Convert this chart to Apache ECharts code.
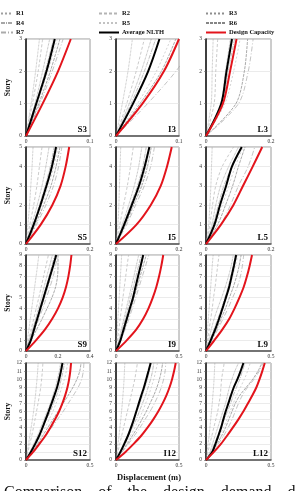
<!DOCTYPE html>
<html>
<head>
<meta charset="UTF-8">
<title></title>
<style type="text/css">
* { margin: 0; padding: 0; }
#story { width: 295px; height: 491px; background: #fff; }
</style>
</head>
<body>
<div id="story"></div>
<script src="https://cdn.jsdelivr.net/npm/echarts@6/dist/echarts.min.js"></script>
<script type="text/javascript">
// panels row by row: S, I, L for 3, 5, 9 and 12 storeys
var panelNames = ['S3', 'I3', 'L3', 'S5', 'I5', 'L5', 'S9', 'I9', 'L9', 'S12', 'I12', 'L12'];
var storyCounts = [3, 5, 9, 12];
var xMax = [0.1, 0.1, 0.2, 0.2, 0.2, 0.2, 0.4, 0.5, 0.5, 0.5, 0.5, 0.5];
var xStep = [0.1, 0.1, 0.2, 0.2, 0.2, 0.2, 0.2, 0.5, 0.5, 0.5, 0.5, 0.5];
var recordNames = ['R1', 'R2', 'R3', 'R4', 'R5', 'R6', 'R7'];

// displacement (m) at storey 0..N
var avgS3 = [0, 0.016, 0.032, 0.045];
var capS3 = [0, 0.026, 0.050, 0.070];
var recS3 = [
	[0, 0.008, 0.015, 0.021], [0, 0.010, 0.019, 0.026], [0, 0.014, 0.026, 0.037],
	[0, 0.016, 0.030, 0.043], [0, 0.018, 0.034, 0.049], [0, 0.020, 0.038, 0.053],
	[0, 0.022, 0.041, 0.058]
];
var avgI3 = [0, 0.027, 0.051, 0.069];
var capI3 = [0, 0.042, 0.076, 0.100];
var recI3 = [
	[0, 0.010, 0.019, 0.026], [0, 0.017, 0.032, 0.045], [0, 0.021, 0.040, 0.056],
	[0, 0.024, 0.045, 0.063], [0, 0.034, 0.064, 0.087], [0, 0.038, 0.072, 0.095],
	[0, 0.050, 0.095, 0.130]
];
var avgL3 = [0, 0.047, 0.063, 0.080];
var capL3 = [0, 0.052, 0.074, 0.094];
var recL3 = [
	[0, 0.016, 0.019, 0.022], [0, 0.025, 0.030, 0.036], [0, 0.045, 0.060, 0.075],
	[0, 0.050, 0.068, 0.088], [0, 0.058, 0.085, 0.105], [0, 0.092, 0.118, 0.128],
	[0, 0.100, 0.130, 0.145]
];

var avgS5 = [0, 0.024, 0.045, 0.064, 0.081, 0.094];
var capS5 = [0, 0.046, 0.082, 0.108, 0.124, 0.135];
var recS5 = [
	[0, 0.006, 0.011, 0.015, 0.019, 0.022], [0, 0.012, 0.024, 0.034, 0.042, 0.050],
	[0, 0.018, 0.035, 0.050, 0.062, 0.072], [0, 0.022, 0.042, 0.060, 0.076, 0.088],
	[0, 0.026, 0.049, 0.070, 0.087, 0.100], [0, 0.029, 0.055, 0.078, 0.094, 0.106],
	[0, 0.033, 0.062, 0.086, 0.102, 0.112]
];
var avgI5 = [0, 0.026, 0.050, 0.073, 0.091, 0.106];
var capI5 = [0, 0.065, 0.110, 0.142, 0.162, 0.177];
var recI5 = [
	[0, 0.006, 0.009, 0.011, 0.013, 0.015], [0, 0.012, 0.024, 0.036, 0.046, 0.055],
	[0, 0.020, 0.040, 0.058, 0.072, 0.082], [0, 0.024, 0.046, 0.068, 0.085, 0.096],
	[0, 0.028, 0.052, 0.078, 0.095, 0.106], [0, 0.030, 0.056, 0.082, 0.100, 0.112],
	[0, 0.034, 0.062, 0.090, 0.110, 0.122]
];
var avgL5 = [0, 0.026, 0.043, 0.062, 0.080, 0.110];
var capL5 = [0, 0.046, 0.084, 0.114, 0.144, 0.173];
var recL5 = [
	[0, 0.008, 0.012, 0.015, 0.017, 0.019], [0, 0.012, 0.020, 0.030, 0.050, 0.085],
	[0, 0.018, 0.030, 0.045, 0.070, 0.100], [0, 0.022, 0.038, 0.055, 0.080, 0.108],
	[0, 0.030, 0.050, 0.070, 0.090, 0.114], [0, 0.036, 0.060, 0.082, 0.100, 0.120],
	[0, 0.045, 0.075, 0.100, 0.130, 0.150]
];

var avgS9 = [0, 0.030, 0.050, 0.070, 0.090, 0.110, 0.130, 0.150, 0.170, 0.189];
var capS9 = [0, 0.062, 0.118, 0.163, 0.200, 0.229, 0.250, 0.265, 0.276, 0.284];
var recS9 = [
	[0, 0.009, 0.018, 0.027, 0.036, 0.045, 0.054, 0.063, 0.072, 0.080],
	[0, 0.016, 0.032, 0.048, 0.064, 0.080, 0.095, 0.110, 0.125, 0.140],
	[0, 0.020, 0.040, 0.060, 0.078, 0.096, 0.113, 0.130, 0.148, 0.165],
	[0, 0.022, 0.044, 0.065, 0.086, 0.106, 0.125, 0.144, 0.162, 0.180],
	[0, 0.025, 0.050, 0.074, 0.097, 0.118, 0.138, 0.158, 0.175, 0.190],
	[0, 0.032, 0.066, 0.100, 0.132, 0.162, 0.185, 0.197, 0.200, 0.200],
	[0, 0.028, 0.055, 0.080, 0.105, 0.128, 0.150, 0.170, 0.185, 0.198]
];
var avgI9 = [0, 0.035, 0.060, 0.085, 0.110, 0.135, 0.155, 0.175, 0.196, 0.216];
var capI9 = [0, 0.085, 0.160, 0.215, 0.258, 0.292, 0.320, 0.342, 0.360, 0.375];
var recI9 = [
	[0, 0.005, 0.010, 0.015, 0.020, 0.025, 0.030, 0.035, 0.040, 0.045],
	[0, 0.011, 0.022, 0.033, 0.044, 0.055, 0.066, 0.077, 0.088, 0.100],
	[0, 0.022, 0.042, 0.062, 0.082, 0.102, 0.122, 0.142, 0.161, 0.180],
	[0, 0.026, 0.050, 0.072, 0.094, 0.115, 0.137, 0.158, 0.179, 0.200],
	[0, 0.030, 0.056, 0.082, 0.106, 0.130, 0.152, 0.175, 0.198, 0.220],
	[0, 0.034, 0.064, 0.092, 0.118, 0.143, 0.168, 0.192, 0.216, 0.240],
	[0, 0.038, 0.072, 0.102, 0.130, 0.157, 0.183, 0.209, 0.235, 0.260]
];
var avgL9 = [0, 0.036, 0.070, 0.100, 0.127, 0.153, 0.178, 0.197, 0.215, 0.232];
var capL9 = [0, 0.064, 0.125, 0.178, 0.220, 0.257, 0.290, 0.315, 0.336, 0.354];
var recL9 = [
	[0, 0.006, 0.012, 0.018, 0.024, 0.030, 0.036, 0.042, 0.048, 0.055],
	[0, 0.012, 0.024, 0.036, 0.048, 0.058, 0.070, 0.080, 0.090, 0.100],
	[0, 0.020, 0.040, 0.062, 0.090, 0.120, 0.148, 0.173, 0.194, 0.210],
	[0, 0.030, 0.060, 0.090, 0.120, 0.145, 0.170, 0.190, 0.210, 0.225],
	[0, 0.035, 0.068, 0.100, 0.130, 0.157, 0.182, 0.205, 0.226, 0.245],
	[0, 0.040, 0.080, 0.115, 0.150, 0.180, 0.210, 0.235, 0.255, 0.270],
	[0, 0.045, 0.090, 0.130, 0.170, 0.205, 0.240, 0.265, 0.280, 0.290]
];

var avgS12 = [0, 0.038, 0.072, 0.103, 0.129, 0.153, 0.177, 0.200, 0.222, 0.243, 0.259, 0.273, 0.285];
var capS12 = [0, 0.056, 0.105, 0.151, 0.190, 0.226, 0.258, 0.284, 0.306, 0.324, 0.337, 0.346, 0.352];
var recS12 = [
	[0, 0.010, 0.020, 0.030, 0.040, 0.050, 0.059, 0.067, 0.074, 0.080, 0.086, 0.091, 0.095],
	[0, 0.015, 0.030, 0.045, 0.058, 0.070, 0.082, 0.094, 0.105, 0.115, 0.122, 0.128, 0.132],
	[0, 0.030, 0.060, 0.090, 0.115, 0.140, 0.165, 0.190, 0.210, 0.230, 0.245, 0.260, 0.270],
	[0, 0.035, 0.070, 0.100, 0.130, 0.160, 0.190, 0.215, 0.240, 0.260, 0.275, 0.290, 0.300],
	[0, 0.040, 0.080, 0.115, 0.150, 0.180, 0.210, 0.235, 0.260, 0.280, 0.300, 0.315, 0.325],
	[0, 0.045, 0.090, 0.130, 0.170, 0.210, 0.250, 0.290, 0.330, 0.367, 0.398, 0.420, 0.430],
	[0, 0.050, 0.100, 0.150, 0.200, 0.245, 0.290, 0.330, 0.370, 0.408, 0.435, 0.448, 0.452]
];
var avgI12 = [0, 0.035, 0.066, 0.095, 0.119, 0.141, 0.161, 0.181, 0.201, 0.222, 0.240, 0.258, 0.275];
var capI12 = [0, 0.075, 0.140, 0.200, 0.250, 0.295, 0.335, 0.370, 0.400, 0.425, 0.445, 0.461, 0.474];
var recI12 = [
	[0, 0.008, 0.016, 0.024, 0.031, 0.038, 0.044, 0.050, 0.055, 0.060, 0.064, 0.067, 0.070],
	[0, 0.015, 0.030, 0.045, 0.060, 0.075, 0.090, 0.105, 0.120, 0.135, 0.149, 0.160, 0.170],
	[0, 0.030, 0.060, 0.090, 0.115, 0.140, 0.165, 0.190, 0.210, 0.230, 0.250, 0.265, 0.280],
	[0, 0.035, 0.070, 0.100, 0.130, 0.160, 0.185, 0.210, 0.235, 0.255, 0.275, 0.290, 0.300],
	[0, 0.040, 0.080, 0.115, 0.150, 0.180, 0.210, 0.235, 0.260, 0.280, 0.300, 0.315, 0.330],
	[0, 0.045, 0.090, 0.130, 0.170, 0.205, 0.240, 0.270, 0.300, 0.325, 0.345, 0.360, 0.370],
	[0, 0.050, 0.100, 0.145, 0.190, 0.230, 0.270, 0.305, 0.335, 0.360, 0.378, 0.390, 0.395]
];
var avgL12 = [0, 0.048, 0.073, 0.095, 0.116, 0.133, 0.151, 0.172, 0.192, 0.214, 0.242, 0.266, 0.288];
var capL12 = [0, 0.061, 0.115, 0.162, 0.206, 0.248, 0.287, 0.322, 0.357, 0.388, 0.412, 0.433, 0.452];
var recL12 = [
	[0, 0.008, 0.016, 0.024, 0.030, 0.036, 0.042, 0.048, 0.053, 0.058, 0.062, 0.065, 0.068],
	[0, 0.015, 0.030, 0.045, 0.060, 0.075, 0.090, 0.100, 0.110, 0.115, 0.120, 0.130, 0.140],
	[0, 0.030, 0.050, 0.070, 0.090, 0.110, 0.130, 0.150, 0.165, 0.180, 0.200, 0.222, 0.250],
	[0, 0.035, 0.065, 0.090, 0.115, 0.140, 0.165, 0.190, 0.210, 0.235, 0.260, 0.280, 0.300],
	[0, 0.040, 0.075, 0.105, 0.135, 0.160, 0.185, 0.210, 0.235, 0.265, 0.295, 0.320, 0.340],
	[0, 0.045, 0.085, 0.120, 0.150, 0.175, 0.200, 0.225, 0.260, 0.310, 0.360, 0.400, 0.430],
	[0, 0.050, 0.095, 0.135, 0.170, 0.200, 0.225, 0.250, 0.280, 0.320, 0.370, 0.410, 0.440]
];

var avgAll = [avgS3, avgI3, avgL3, avgS5, avgI5, avgL5, avgS9, avgI9, avgL9, avgS12, avgI12, avgL12];
var capAll = [capS3, capI3, capL3, capS5, capI5, capL5, capS9, capI9, capL9, capS12, capI12, capL12];
var recAll = [recS3, recI3, recL3, recS5, recI5, recL5, recS9, recI9, recL9, recS12, recI12, recL12];

// layout of the 4x3 panel grid (pixels)
var colLeft = [26, 116, 206];
var colWidth = [64, 63, 65];
var rowTop = [39, 147, 255, 363];
var rowHeight = [97, 97, 96, 97];

var serif = 'Liberation Serif';
var recColors = ['#a0a0a0', '#b4b4b4', '#8e8e8e', '#a6a6a6', '#c2c2c2', '#858585', '#ababab'];
var recDash = ['dotted', [3, 2], 'dotted', [4, 1, 1, 1], [2, 2], [3, 1], [5, 2, 1, 2]];

function curve(xs) {
	var pts = [];
	for(var k = 0; k < xs.length; k++) {
		pts.push([xs[k], k]);
	}
	return pts;
}

var grids = [], xAxes = [], yAxes = [], series = [], texts = [];

for(var i = 0; i < panelNames.length; i++) {
	var r = Math.floor(i / 3), c = i % 3;
	var n = storyCounts[r];
	grids.push({
		left: colLeft[c], top: rowTop[r], width: colWidth[c], height: rowHeight[r],
		show: true, borderColor: '#9a9a9a', borderWidth: 1, backgroundColor: '#fff'
	});
	xAxes.push({
		type: 'value', gridIndex: i, min: 0, max: xMax[i], interval: xStep[i],
		axisLine: { show: true, lineStyle: { color: '#555', width: 1.5 } },
		axisTick: { show: false },
		splitLine: { show: false },
		axisLabel: {
			fontSize: 5.5, fontFamily: serif, color: '#333', margin: 3,
			showMinLabel: true, showMaxLabel: true,
			formatter: function(v) { return v === 0 ? '0' : String(+v.toFixed(2)); }
		}
	});
	yAxes.push({
		type: 'value', gridIndex: i, min: 0, max: n, interval: 1,
		name: c === 0 ? 'Story' : '', nameLocation: 'middle', nameGap: 14,
		nameTextStyle: { fontSize: 7.5, fontFamily: serif, fontWeight: 'bold', color: '#111' },
		axisLine: { show: true, lineStyle: { color: '#111', width: 1.5 } },
		axisTick: { show: true, length: 2, lineStyle: { color: '#666', width: 0.6 } },
		splitLine: { show: true, lineStyle: { color: '#dedede', width: 0.6 } },
		axisLabel: { fontSize: 5.5, fontFamily: serif, color: '#333', margin: 4 }
	});
	for(var j = 0; j < 7; j++) {
		series.push({
			name: recordNames[j], type: 'line', xAxisIndex: i, yAxisIndex: i,
			data: curve(recAll[i][j]), symbol: 'none', smooth: 0.3, silent: true, z: 2,
			itemStyle: { color: recColors[j] },
			lineStyle: { color: recColors[j], width: 0.7, type: recDash[j] }
		});
	}
	series.push({
		name: 'Average NLTH', type: 'line', xAxisIndex: i, yAxisIndex: i,
		data: curve(avgAll[i]), symbol: 'none', smooth: 0.3, silent: true, z: 3,
		itemStyle: { color: '#000' },
		lineStyle: { color: '#000', width: 2 }
	});
	series.push({
		name: 'Design Capacity', type: 'line', xAxisIndex: i, yAxisIndex: i,
		data: curve(capAll[i]), symbol: 'none', smooth: 0.3, silent: true, z: 4,
		itemStyle: { color: '#e3141c' },
		lineStyle: { color: '#e3141c', width: 2 }
	});
	// panel tag in the lower right corner
	texts.push({
		type: 'text', z: 10,
		style: {
			x: colLeft[c] + colWidth[c] - 3, y: rowTop[r] + rowHeight[r] - 2,
			text: panelNames[i], textAlign: 'right', textVerticalAlign: 'bottom',
			font: 'bold 9px "Liberation Serif"', fill: '#111'
		}
	});
}

texts.push({
	type: 'text',
	style: {
		x: 149, y: 478, text: 'Displacement (m)', textAlign: 'center', textVerticalAlign: 'middle',
		font: 'bold 8.5px "Liberation Serif"', fill: '#111'
	}
});
var gap = '\u00a0\u00a0\u00a0\u00a0';
texts.push({
	type: 'text',
	style: {
		x: 4, y: 485,
		text: 'Comparison' + gap + 'of' + gap + 'the' + gap + 'design' + gap + 'demand' + gap + 'displacement',
		textAlign: 'left', textVerticalAlign: 'top',
		font: '16px "Liberation Serif"', fill: '#111'
	}
});

function legendCol(left, itemWidth, names) {
	return {
		orient: 'vertical', left: left, top: 10, itemWidth: itemWidth, itemHeight: 5, itemGap: 2.5,
		selectedMode: false, padding: 0,
		itemStyle: { opacity: 0 },
		textStyle: { fontSize: 6.5, fontFamily: serif, fontWeight: 'bold', color: '#111', padding: [0, 0, 0, -2] },
		data: names
	};
}

var myChart = echarts.init(document.getElementById('story'));
myChart.setOption({
	animation: false,
	legend: [
		legendCol(0, 12, ['R1', 'R4', 'R7']),
		legendCol(98, 20, ['R2', 'R5', 'Average NLTH']),
		legendCol(205, 20, ['R3', 'R6', 'Design Capacity'])
	],
	grid: grids,
	xAxis: xAxes,
	yAxis: yAxes,
	series: series,
	graphic: texts
});
</script>
</body>
</html>
